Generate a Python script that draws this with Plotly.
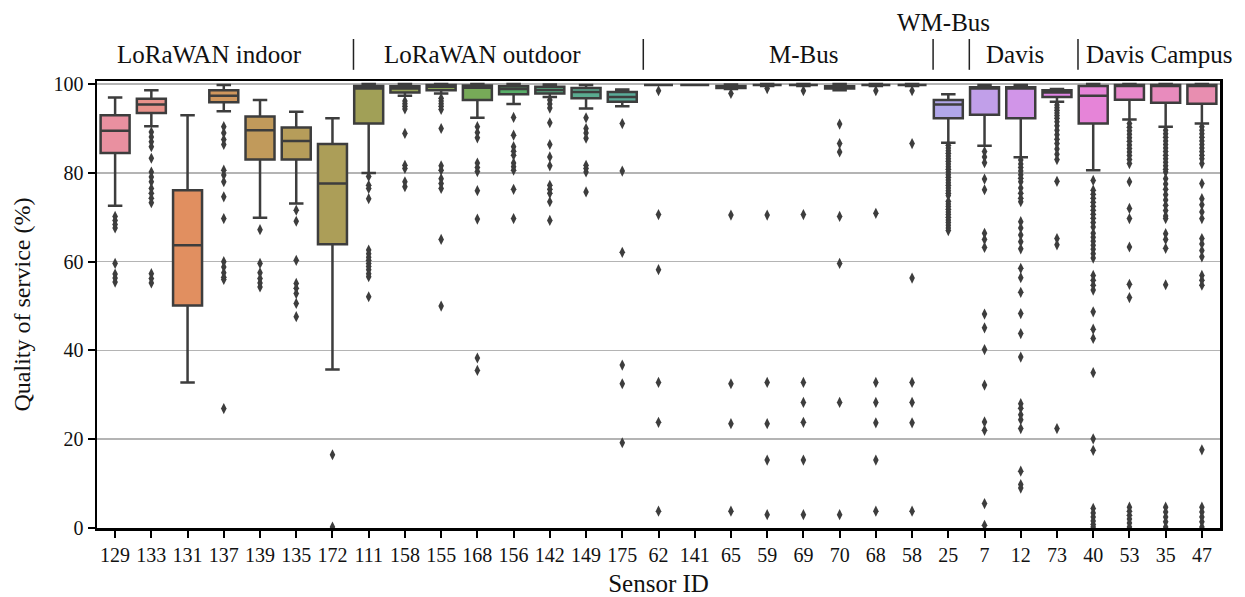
import math
import colorsys
import plotly.graph_objects as go

# ---------------- data ----------------
sensor_ids = ["129", "133", "131", "137", "139", "135", "172",
              "111", "158", "155", "168", "156", "142", "149", "175",
              "62", "141", "65", "59", "69", "70", "68", "58",
              "25", "7", "12", "73", "40", "53", "35", "47"]

lower_whisker = [72.6, 90.5, 32.8, 93.9, 69.9, 73.1, 35.7,
                 80.0, 97.4, 97.9, 92.4, 95.5, 97.1, 94.5, 95.0,
                 99.8, 99.8, 98.9, 99.6, 99.6, 98.6, 99.6, 99.6,
                 86.8, 86.1, 83.5, 96.0, 80.6, 92.0, 90.4, 91.1]
q1 = [84.5, 93.5, 50.1, 95.9, 83.0, 83.0, 63.9,
      91.1, 98.1, 98.6, 96.4, 97.7, 97.9, 96.8, 96.0,
      99.8, 99.8, 99.1, 99.8, 99.8, 99.0, 99.8, 99.8,
      92.3, 93.1, 92.3, 97.1, 91.1, 96.5, 95.8, 95.6]
median = [89.5, 95.4, 63.7, 97.4, 89.6, 87.2, 77.6,
          99.0, 99.0, 99.4, 99.2, 98.9, 98.7, 98.2, 97.1,
          99.8, 99.8, 99.4, 99.8, 99.8, 99.3, 99.8, 99.8,
          95.4, 99.0, 99.0, 98.1, 97.4, 99.6, 99.6, 99.6]
q3 = [93.0, 96.7, 76.1, 98.6, 92.7, 90.2, 86.5,
      99.6, 99.5, 99.8, 99.7, 99.5, 99.4, 99.1, 98.2,
      99.8, 99.8, 99.6, 99.8, 99.8, 99.5, 99.8, 99.8,
      96.4, 99.3, 99.3, 98.6, 99.6, 99.8, 99.8, 99.8]
upper_whisker = [97.0, 98.6, 93.0, 99.8, 96.4, 93.8, 92.3,
                 100, 100, 100, 100, 100, 99.9, 99.8, 98.8,
                 99.8, 99.8, 99.9, 100, 100, 100, 100, 100,
                 97.7, 99.8, 99.8, 98.9, 100, 100, 100, 100]

outliers = {
    "129": [70.2, 69.3, 68.4, 67.6, 59.6, 57.2, 56.3, 55.4],
    "133": [89.2, 88.1, 87.0, 85.9, 83.3, 80.2, 79.1, 78.0, 76.5, 75.4, 74.3, 73.3, 57.3, 56.2, 55.2],
    "131": [],
    "137": [90.4, 89.0, 87.5, 86.4, 80.6, 79.5, 78.0, 74.6, 69.7, 60.0, 58.8, 57.5, 56.5, 56.0, 26.9],
    "139": [67.2, 59.6, 57.5, 56.2, 55.2, 54.3],
    "135": [71.6, 69.1, 60.3, 55.1, 54.0, 52.8, 50.6, 47.6],
    "172": [16.5, 0.2],
    "111": [79.2, 77.2, 76.5, 74.2, 62.6, 61.8, 61.0, 60.3, 59.6, 58.9, 58.2, 57.3, 56.6, 52.1],
    "158": [96.2, 95.6, 95.0, 94.4, 88.9, 81.7, 81.0, 78.0, 76.9],
    "155": [96.8, 96.2, 95.6, 95.0, 94.3, 90.0, 81.6, 80.6, 78.7, 77.6, 76.5, 65.0, 50.0],
    "168": [90.4, 89.1, 87.9, 82.2, 81.2, 80.3, 76.0, 69.6, 38.3, 35.5],
    "156": [92.5, 88.5, 85.9, 84.9, 84.0, 82.2, 81.4, 80.6, 76.3, 69.7],
    "142": [96.4, 95.5, 94.6, 91.3, 86.4, 83.6, 81.6, 77.2, 76.3, 75.4, 73.5, 69.3],
    "149": [92.4, 90.0, 89.0, 87.8, 81.7, 81.0, 80.2, 75.7],
    "175": [91.1, 80.4, 62.1, 36.7, 32.5, 19.2],
    "62": [98.5, 70.6, 58.2, 32.8, 23.8, 3.8],
    "141": [],
    "65": [97.9, 70.5, 32.5, 23.5, 3.8],
    "59": [99.0, 70.5, 32.8, 23.5, 15.3, 3.0],
    "69": [98.5, 70.6, 32.8, 28.3, 23.8, 15.3, 3.0],
    "70": [91.0, 86.6, 84.7, 70.2, 59.6, 28.3, 3.0],
    "68": [98.5, 70.9, 32.8, 28.3, 23.7, 15.3, 3.8],
    "58": [98.5, 86.6, 56.3, 32.8, 28.3, 23.7, 3.8],
    "25": [86.2, 85.6, 85.0, 84.4, 83.8, 83.2, 82.6, 82.0, 81.4, 80.8, 80.2, 79.6, 79.0, 78.4,
           77.8, 77.2, 76.6, 76.0, 75.4, 74.9, 73.6, 73.0, 72.4, 71.8, 71.2, 70.6, 70.0, 69.4,
           68.8, 68.2, 67.6, 67.0],
    "7": [84.8, 83.6, 82.3, 78.6, 76.2, 66.4, 65.0, 63.2, 48.2, 45.1, 40.2, 32.2, 23.9, 22.0, 5.5, 0.6],
    "12": [82.9, 82.0, 81.2, 80.4, 79.6, 78.8, 78.0, 76.6, 75.4, 74.3, 73.5, 69.0, 67.6, 66.0, 64.5,
           62.9, 58.5, 56.4, 53.1, 48.3, 43.8, 38.5, 28.0, 27.0, 25.5, 24.4, 22.4, 12.8, 9.8, 9.0],
    "73": [95.3, 94.7, 94.1, 93.5, 92.9, 92.3, 91.5, 90.6, 89.6, 88.6, 87.6, 86.6, 85.4, 84.2, 83.0,
           78.1, 65.2, 63.8, 22.4],
    "40": [78.3, 76.1, 75.2, 74.3, 73.4, 72.5, 71.6, 70.7, 69.8, 68.8, 67.8, 66.4, 65.5, 64.6, 63.7,
           62.8, 61.8, 60.8, 56.9, 55.8, 54.7, 53.6, 48.7, 44.8, 42.7, 35.0, 20.1, 17.5,
           4.4, 3.4, 2.5, 1.6, 0.8, 0.2],
    "53": [91.1, 90.3, 89.5, 88.7, 87.9, 87.1, 86.3, 85.5, 84.7, 83.9, 83.0, 82.1, 78.0, 72.0, 69.7,
           63.3, 54.9, 51.9, 4.7, 3.8, 2.9, 2.0, 1.1, 0.2],
    "35": [89.6, 88.8, 88.0, 87.2, 86.4, 85.6, 84.8, 84.0, 83.2, 82.4, 81.6, 80.8, 80.2, 78.7, 77.5,
           76.3, 75.1, 73.9, 72.7, 71.5, 70.3, 69.7, 66.3, 65.0, 63.0, 54.8, 4.7, 3.6, 2.5, 1.4, 0.2],
    "47": [90.4, 89.6, 88.8, 88.0, 87.2, 86.4, 85.6, 84.8, 84.0, 83.2, 82.1, 77.6, 74.2, 72.8, 71.2,
           69.7, 65.2, 64.0, 62.5, 61.1, 56.9, 55.8, 54.7, 17.6, 4.7, 3.6, 2.5, 1.4, 0.2],
}

group_names = ["LoRaWAN indoor", "LoRaWAN outdoor", "M-Bus", "WM-Bus", "Davis", "Davis Campus"]
group_sizes = [7, 8, 8, 1, 3, 4]
y_ticks = [0, 20, 40, 60, 80, 100]

# ---------------- husl palette (seaborn style) ----------------
_M = [[3.2406, -1.5372, -0.4986],
      [-0.9689, 1.8758, 0.0415],
      [0.0557, -0.2040, 1.0570]]
_refU, _refV, _lab_e, _lab_k = 0.19784, 0.46834, 0.008856, 903.3


def _max_chroma(L, H):
    hrad = math.radians(H)
    sinH, cosH = math.sin(hrad), math.cos(hrad)
    sub1 = (L + 16) ** 3 / 1560896.0
    sub2 = sub1 if sub1 > _lab_e else L / _lab_k
    result = float("inf")
    for m1, m2, m3 in _M:
        top = (0.99915 * m1 + 1.05122 * m2 + 1.14460 * m3) * sub2
        rbottom = 0.86330 * m3 - 0.17266 * m2
        lbottom = 0.12949 * m3 - 0.38848 * m1
        bottom = (rbottom * sinH + lbottom * cosH) * sub2
        for t in (0.0, 1.0):
            C = L * (top - 1.05122 * t) / (bottom + 0.17266 * sinH * t)
            if 0.0 < C < result:
                result = C
    return result


def _from_linear(c):
    return 12.92 * c if c <= 0.0031308 else 1.055 * c ** (1 / 2.4) - 0.055


def husl_to_rgb(H, S, L):
    C = _max_chroma(L, H) / 100.0 * S
    U = math.cos(math.radians(H)) * C
    V = math.sin(math.radians(H)) * C
    t = (L + 16) / 116.0
    varY = t ** 3 if t ** 3 > _lab_e else (116 * t - 16) / _lab_k
    varU = U / (13.0 * L) + _refU
    varV = V / (13.0 * L) + _refV
    Y = varY
    X = -(9.0 * Y * varU) / ((varU - 4.0) * varV - varU * varV)
    Z = (9.0 * Y - 15.0 * varV * Y - varV * X) / (3.0 * varV)
    rgb = [_from_linear(r[0] * X + r[1] * Y + r[2] * Z) for r in _M]
    return [min(1, max(0, c)) for c in rgb]


def palette(n, h=0.01, s=0.9, l=0.65, sat=0.75, lighten=0.12):
    out = []
    for i in range(n):
        hue = ((i / n + h) % 1) * 359
        r, g, b = husl_to_rgb(hue, s * 99, l * 99)
        hh, ll, ss = colorsys.rgb_to_hls(r, g, b)
        rgb = colorsys.hls_to_rgb(hh, ll, ss * sat)
        rgb = [c + (1 - c) * lighten for c in rgb]
        out.append("rgb(%d,%d,%d)" % tuple(round(c * 255) for c in rgb))
    return out


colors = palette(len(sensor_ids))
line_gray = "#3d3d3d"
serif = "Liberation Serif, Times New Roman, serif"

fig = go.Figure()
for i, sid in enumerate(sensor_ids):
    fig.add_trace(go.Box(
        x=[sid], q1=[q1[i]], median=[median[i]], q3=[q3[i]],
        lowerfence=[lower_whisker[i]], upperfence=[upper_whisker[i]],
        fillcolor=colors[i], line=dict(color=line_gray, width=2.5),
        width=0.8, whiskerwidth=0.5, boxpoints=False, showlegend=False,
        hoverinfo="skip"))

ox = [sid for sid in sensor_ids for _ in outliers[sid]]
oy = [v for sid in sensor_ids for v in outliers[sid]]
fig.add_trace(go.Scatter(
    x=ox, y=oy, mode="markers", showlegend=False, cliponaxis=False, hoverinfo="skip",
    marker=dict(symbol="diamond-tall", size=8, color=line_gray, line=dict(width=0))))

# group labels and separators
starts = [sum(group_sizes[:k]) for k in range(len(group_sizes))]
label_offsets = [-0.4, -0.35, 0.5, -0.14, -0.17, 0.33]
for k, name in enumerate(group_names):
    center = starts[k] + (group_sizes[k] - 1) / 2 + label_offsets[k]
    yshift = 59 if name == "WM-Bus" else 27
    fig.add_annotation(x=center, y=1, xref="x", yref="paper", text=name, showarrow=False,
                       yanchor="middle", yshift=yshift,
                       font=dict(family=serif, size=25, color="#111"))
for k in range(1, len(group_sizes)):
    xb = starts[k] - 0.5 + 0.08
    fig.add_shape(type="line", xref="x", yref="paper", x0=xb, x1=xb, y0=1.025, y1=1.094,
                  line=dict(color="#222", width=1.5))

fig.update_layout(
    width=1245, height=597,
    margin=dict(l=97, r=25, t=81, b=69, autoexpand=False),
    paper_bgcolor="white", plot_bgcolor="white",
    boxmode="overlay", hovermode=False,
    font=dict(family=serif, color="#111"),
    xaxis=dict(type="category", categoryorder="array", categoryarray=sensor_ids,
               range=[-0.5, len(sensor_ids) - 0.5], automargin=False,
               showline=True, linecolor="black", linewidth=2.5, mirror=True,
               ticks="outside", ticklen=7, tickwidth=2, tickcolor="black",
               tickfont=dict(size=20, family=serif, color="#111"),
               showgrid=False, zeroline=False,
               title=dict(text="Sensor ID", font=dict(size=25, family=serif, color="#111"), standoff=14)),
    yaxis=dict(range=[0, 100.7], tickvals=y_ticks, automargin=False,
               showline=True, linecolor="black", linewidth=2.5, mirror=True,
               ticks="outside", ticklen=7, tickwidth=2, tickcolor="black",
               tickfont=dict(size=20, family=serif, color="#111"),
               showgrid=True, gridcolor="#b4b4b4", gridwidth=1.5, zeroline=False,
               title=dict(text="Quality of service (%)", font=dict(size=24, family=serif, color="#111"),
                          standoff=16)),
)

# remove the browser's default 8px body margin so the figure fills the window exactly
fig.write_html(
    "out.html",
    config={"displayModeBar": False, "staticPlot": True},
    post_script=("document.body.style.margin='0';document.body.style.overflow='hidden';"
                 "document.documentElement.style.overflow='hidden';"))
